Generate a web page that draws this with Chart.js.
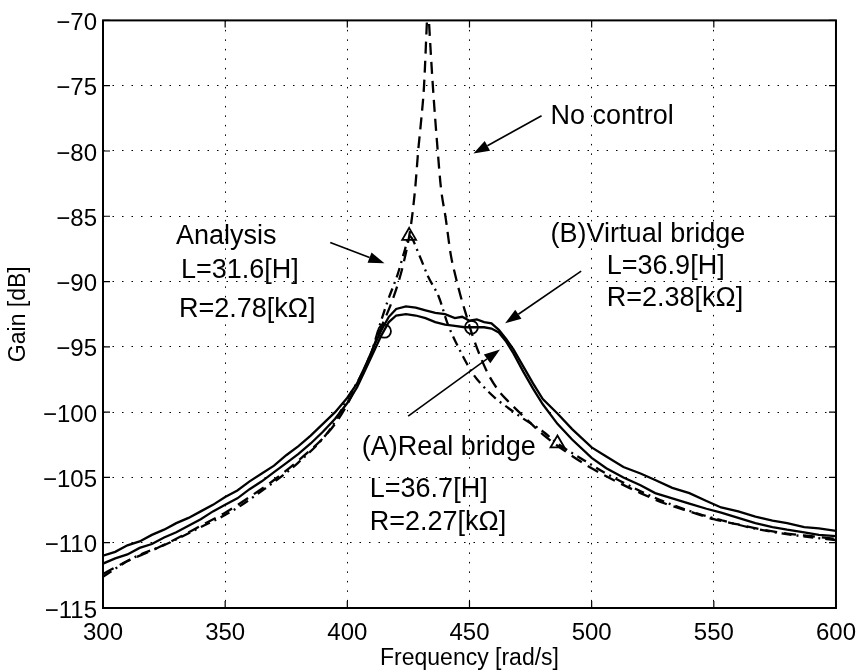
<!DOCTYPE html>
<html>
<head>
<meta charset="utf-8">
<script src="https://cdn.jsdelivr.net/npm/chart.js@4/dist/chart.umd.min.js"></script>
<style>
  html, body { margin: 0; padding: 0; background: #fff; }
  #wrap { width: 867px; height: 672px; }
</style>
</head>
<body>
<div id="wrap"><canvas id="graph"></canvas></div>
<script>
// axis ticks
const freqTicks = [300, 350, 400, 450, 500, 550, 600];
const gainTicks = [-115, -110, -105, -100, -95, -90, -85, -80, -75, -70];

// (B) virtual bridge, measured
const virtualFreq = [300, 305, 310, 315, 320, 325, 330, 335, 340, 345, 350, 355, 360, 365, 370, 375, 380, 385, 390, 395,
  400, 404, 408, 411, 414, 417, 420, 424, 428, 432, 436, 440, 444, 447, 450, 453, 456, 459, 462, 465, 468, 472, 476, 480,
  486, 492, 500, 506, 513, 520, 526, 533, 540, 547, 553, 560, 567, 574, 580, 587, 593, 600];
const virtualGain = [-111.0, -110.7, -110.2, -109.9, -109.4, -109.0, -108.5, -108.1, -107.6, -107.1, -106.5, -106.0, -105.3, -104.7, -104.1, -103.3, -102.6, -101.8, -100.9, -100.0,
  -98.9, -97.8, -96.2, -94.9, -93.7, -92.7, -92.1, -91.9, -92.0, -92.2, -92.4, -92.5, -92.8, -92.7, -93.0, -92.9, -93.1, -93.2, -93.7, -94.4, -95.2, -96.5, -97.8, -99.0,
  -100.1, -101.3, -102.7, -103.4, -104.2, -104.7, -105.2, -105.8, -106.2, -106.8, -107.3, -107.6, -108.0, -108.3, -108.5, -108.8, -108.9, -109.1];

// (A) real bridge, measured
const realFreq = [300, 305, 310, 315, 320, 325, 330, 335, 340, 345, 350, 355, 360, 365, 370, 375, 380, 385, 390, 395,
  400, 404, 408, 411, 414, 417, 420, 424, 428, 432, 436, 440, 444, 448, 452, 456, 459, 462, 465, 468, 472, 476, 480,
  486, 492, 500, 506, 513, 520, 526, 533, 540, 547, 553, 560, 567, 574, 580, 587, 593, 600];
const realGain = [-111.6, -111.2, -110.9, -110.4, -110.1, -109.6, -109.2, -108.7, -108.2, -107.6, -107.1, -106.6, -105.9, -105.3, -104.6, -103.9, -103.2, -102.4, -101.5, -100.5,
  -99.3, -98.1, -96.5, -95.3, -94.1, -93.1, -92.6, -92.5, -92.6, -92.8, -93.1, -93.3, -93.4, -93.5, -93.5, -93.5, -93.6, -93.9, -94.6, -95.5, -96.9, -98.2, -99.4,
  -100.9, -102.1, -103.5, -104.3, -105.0, -105.6, -106.2, -106.6, -107.0, -107.4, -107.7, -108.1, -108.5, -108.8, -109.0, -109.2, -109.4, -109.5];

// no control
const noCtrlFreq = [300, 310, 320, 330, 340, 350, 360, 370, 380, 390, 395, 400, 405, 409, 413.2, 418.9, 423, 426.1, 427.8, 429, 430.3, 431.4, 432.6, 433.0,
  433.4, 435, 437, 438.3, 440.3, 442.3, 444.3, 446.5, 448.4, 451, 455, 458, 461.7, 466, 472, 480, 490, 500, 510, 520, 530, 540, 550, 560, 570, 580, 590, 600];
const noCtrlGain = [-112.4, -111.4, -110.6, -109.7, -108.7, -107.7, -106.5, -105.2, -103.7, -102.0, -100.9, -99.4, -97.5, -95.8, -93.8, -91.2, -88.6, -85.6, -82.8, -80.0, -77.5, -75.0, -70.0, -68.5,
  -70.0, -75.0, -80.0, -82.8, -85.2, -87.9, -89.6, -91.2, -92.4, -94.0, -96.0, -97.2, -98.3, -99.2, -100.3, -101.7, -103.1, -104.3, -105.3, -106.2, -107.0, -107.6, -108.2, -108.6, -109.0, -109.3, -109.5, -109.7];

// analysis
const analysisFreq = [300, 312, 326, 339, 352.6, 366, 379.7, 393, 400, 405, 409.2, 413, 416.5, 420.5, 423.5, 425.3,
  429.5, 433, 437.5, 441, 445.6, 451.2, 456, 461, 466, 472, 479.5, 486, 497, 505, 514, 524, 533, 544, 553.5, 564, 575, 586, 600];
const analysisGain = [-112.6, -111.2, -110.1, -108.9, -107.6, -105.9, -103.9, -101.3, -99.0, -97.4, -95.8, -93.5, -91.5, -89.5, -87.6, -86.5,
  -88.0, -89.6, -91.2, -93.2, -95.1, -97.0, -98.1, -99.0, -99.7, -100.5, -101.4, -102.4, -103.7, -104.6, -105.5, -106.4, -107.1, -107.8, -108.3, -108.8, -109.2, -109.5, -109.8];

// marked points
const circleFreq = [415.2, 450.8];
const circleGain = [-93.8, -93.5];
const triangleFreq = [425.3, 486.0];
const triangleGain = [-86.5, -102.4];

const pts = (xs, ys) => xs.map((x, i) => ({x: x, y: ys[i]}));

const FONT = '"Liberation Sans", Arial, Helvetica, sans-serif';

// labels and arrows, placed in data units
const labels = [
  {text: "No control", x: 483.2, y: -77.9},
  {text: "(B)Virtual bridge", x: 483.2, y: -87.0},
  {text: "L=36.9[H]", x: 506.2, y: -89.4},
  {text: "R=2.38[k\u03A9]", x: 506.2, y: -91.85},
  {text: "Analysis", x: 329.9, y: -87.1},
  {text: "L=31.6[H]", x: 331.9, y: -89.7},
  {text: "R=2.78[k\u03A9]", x: 331.1, y: -92.7},
  {text: "(A)Real bridge", x: 405.9, y: -103.3},
  {text: "L=36.7[H]", x: 409.2, y: -106.5},
  {text: "R=2.27[k\u03A9]", x: 409.2, y: -109.0},
];
const arrows = [
  {from: [479.5, -77.3], to: [451.6, -80.2]},
  {from: [393.0, -87.0], to: [415.2, -88.6]},
  {from: [495.7, -89.2], to: [464.6, -93.2]},
  {from: [424.9, -100.3], to: [462.5, -95.2]},
];

const annotate = {
  id: "annotate",
  afterDatasetsDraw(chart) {
    const {ctx, chartArea: a, scales: {x, y}} = chart;
    ctx.save();

    // box with inward ticks
    ctx.strokeStyle = "#000";
    ctx.lineWidth = 2;
    ctx.strokeRect(a.left, a.top, a.right - a.left, a.bottom - a.top);
    ctx.lineWidth = 1.2;
    ctx.beginPath();
    freqTicks.forEach(v => {
      const px = x.getPixelForValue(v);
      ctx.moveTo(px, a.bottom); ctx.lineTo(px, a.bottom - 7);
      ctx.moveTo(px, a.top); ctx.lineTo(px, a.top + 7);
    });
    gainTicks.forEach(v => {
      const py = y.getPixelForValue(v);
      ctx.moveTo(a.left, py); ctx.lineTo(a.left + 7, py);
      ctx.moveTo(a.right, py); ctx.lineTo(a.right - 7, py);
    });
    ctx.stroke();

    ctx.fillStyle = "#000";
    ctx.font = "27px " + FONT;
    ctx.textBaseline = "alphabetic";
    ctx.textAlign = "left";
    labels.forEach(l => ctx.fillText(l.text, x.getPixelForValue(l.x), y.getPixelForValue(l.y)));

    ctx.lineWidth = 1.6;
    arrows.forEach(ar => {
      const x0 = x.getPixelForValue(ar.from[0]), y0 = y.getPixelForValue(ar.from[1]);
      const x1 = x.getPixelForValue(ar.to[0]), y1 = y.getPixelForValue(ar.to[1]);
      const ang = Math.atan2(y1 - y0, x1 - x0);
      const len = 16, half = 5.5;
      const bx = x1 - len * Math.cos(ang), by = y1 - len * Math.sin(ang);
      ctx.beginPath();
      ctx.moveTo(x0, y0);
      ctx.lineTo(bx, by);
      ctx.stroke();
      ctx.beginPath();
      ctx.moveTo(x1, y1);
      ctx.lineTo(bx + half * Math.sin(ang), by - half * Math.cos(ang));
      ctx.lineTo(bx - half * Math.sin(ang), by + half * Math.cos(ang));
      ctx.closePath();
      ctx.fill();
    });
    ctx.restore();
  }
};

const lineStyle = {
  borderColor: "#000",
  backgroundColor: "#000",
  borderWidth: 2.3,
  pointRadius: 0,
  fill: false,
  showLine: true,
};

new Chart(document.getElementById("graph"), {
  type: "scatter",
  data: {
    datasets: [
      {...lineStyle, label: "(B)Virtual bridge", data: pts(virtualFreq, virtualGain), tension: 0},
      {...lineStyle, label: "(A)Real bridge", data: pts(realFreq, realGain), tension: 0},
      {...lineStyle, label: "No control", data: pts(noCtrlFreq, noCtrlGain), borderDash: [12, 7], cubicInterpolationMode: "monotone"},
      {...lineStyle, label: "Analysis", data: pts(analysisFreq, analysisGain), borderDash: [10, 5, 2, 5], cubicInterpolationMode: "monotone"},
      {label: "o", data: pts(circleFreq, circleGain), showLine: false, pointStyle: "circle", pointRadius: 6.5,
        borderColor: "#000", borderWidth: 1.8, backgroundColor: "rgba(0,0,0,0)"},
      {label: "tri", data: pts(triangleFreq, triangleGain), showLine: false, pointStyle: "triangle", pointRadius: 8,
        borderColor: "#000", borderWidth: 1.8, backgroundColor: "rgba(0,0,0,0)"},
    ],
  },
  options: {
    responsive: true,
    maintainAspectRatio: false,
    animation: false,
    layout: {padding: {left: 0, top: 19, right: 22, bottom: 0}},
    plugins: {legend: {display: false}, tooltip: {enabled: false}},
    scales: {
      x: {
        type: "linear",
        min: 300,
        max: 600,
        afterBuildTicks: s => { s.ticks = freqTicks.map(v => ({value: v})); },
        afterFit: s => { s.height = 64; },
        grid: {color: "#000", lineWidth: 1, drawTicks: false},
        border: {display: false, dash: [1.5, 8]},
        ticks: {color: "#000", padding: 11, maxRotation: 0, font: {family: FONT, size: 24}},
        title: {display: true, text: "Frequency [rad/s]", color: "#000", padding: {top: 0, bottom: 0}, font: {family: FONT, size: 23}},
      },
      y: {
        type: "linear",
        min: -115,
        max: -70,
        afterBuildTicks: s => { s.ticks = gainTicks.map(v => ({value: v})); },
        afterFit: s => { s.width = 103; },
        grid: {color: "#000", lineWidth: 1, drawTicks: false},
        border: {display: false, dash: [1.5, 8]},
        ticks: {
          color: "#000", padding: 6, labelOffset: 3, font: {family: FONT, size: 24},
          callback: v => (v < 0 ? "\u2212" + Math.abs(v) : String(v)),
        },
        title: {display: true, text: "Gain [dB]", color: "#000", padding: {top: 5, bottom: 0}, font: {family: FONT, size: 23}},
      },
    },
  },
  plugins: [annotate],
});
</script>
</body>
</html>
